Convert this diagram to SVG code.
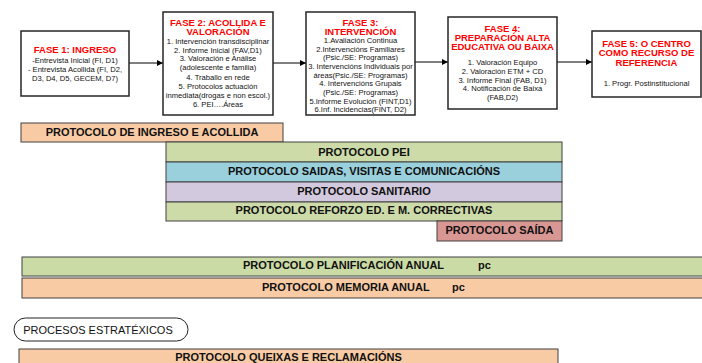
<svg xmlns="http://www.w3.org/2000/svg" width="702" height="363" viewBox="0 0 702 363">
<style>
text{font-family:"Liberation Sans",Arial,sans-serif}
.box{fill:#fff;stroke:#262626;stroke-width:1.5}
.t{font-size:9.5px;font-weight:bold;fill:#ff0000;text-anchor:middle}
.b{font-size:7.6px;fill:#111;text-anchor:middle}
.bar{stroke:#404040;stroke-width:1}
.bl{font-size:11px;font-weight:bold;fill:#111;text-anchor:middle}
.bs{font-size:11px;font-weight:bold;fill:#111}
.conn{stroke:#000;stroke-width:1;fill:none;marker-end:url(#ah)}
</style>
<defs>
<marker id="ah" viewBox="0 0 10 10" refX="10" refY="5" markerWidth="6" markerHeight="6" markerUnits="userSpaceOnUse" orient="auto">
<path d="M0,0 L10,5 L0,10 z" fill="#000"/>
</marker>
</defs>
<rect width="702" height="363" fill="#fff"/>
<g id="connectors">
<line class="conn" x1="129" y1="63" x2="163" y2="63"/>
<line class="conn" x1="273" y1="63" x2="306" y2="63"/>
<line class="conn" x1="415" y1="62" x2="448" y2="62"/>
<line class="conn" x1="557" y1="62" x2="592" y2="62"/>
</g>
<g id="phase1">
<rect class="box" x="21" y="31" width="108" height="65"/>
<text class="t" x="75" y="53.3">FASE 1: INGRESO</text>
<text class="b" x="75" y="62.7">-Entrevista Inicial (FI, D1)</text>
<text class="b" x="75" y="71.7">- Entrevista Acollida (FI, D2,</text>
<text class="b" x="75" y="80.7">D3, D4, D5, GECEM, D7)</text>
</g>
<g id="phase2">
<rect class="box" x="163" y="12" width="110" height="103"/>
<text class="t" x="218" y="26.3">FASE 2: ACOLLIDA E</text>
<text class="t" x="218" y="35.3">VALORACIÓN</text>
<text class="b" x="218" y="44">1. Intervención transdisciplinar</text>
<text class="b" x="218" y="52.7">2. Informe Inicial (FAV,D1)</text>
<text class="b" x="218" y="61.3">3. Valoración e Análise</text>
<text class="b" x="218" y="70.2">(adolescente e familia)</text>
<text class="b" x="218" y="79.7">4. Traballo en rede</text>
<text class="b" x="218" y="88.7">5. Protocolos actuación</text>
<text class="b" x="218" y="97.7">inmediata(drogas e non escol.)</text>
<text class="b" x="218" y="106.7">6. PEI….Áreas</text>
</g>
<g id="phase3">
<rect class="box" x="306" y="12" width="109" height="103"/>
<text class="t" x="360.5" y="26.3">FASE 3:</text>
<text class="t" x="360.5" y="34.7">INTERVENCIÓN</text>
<text class="b" x="360.5" y="43">1.Avaliación Continua</text>
<text class="b" x="360.5" y="51.5">2.Intervencións Familiares</text>
<text class="b" x="360.5" y="60.2">(Psic./SE: Programas)</text>
<text class="b" x="360.5" y="69">3. Intervencións Individuais por</text>
<text class="b" x="360.5" y="77.5">áreas(Psic./SE: Programas)</text>
<text class="b" x="360.5" y="86.3">4. Intervencións Grupais</text>
<text class="b" x="360.5" y="94.8">(Psic./SE: Programas)</text>
<text class="b" x="360.5" y="103.6">5.Informe Evolución (FINT,D1)</text>
<text class="b" x="360.5" y="112">6.Inf. Incidencias(FINT, D2)</text>
</g>
<g id="phase4">
<rect class="box" x="448" y="17" width="109" height="92"/>
<text class="t" x="502.5" y="32">FASE 4:</text>
<text class="t" x="502.5" y="41.3">PREPARACIÓN ALTA</text>
<text class="t" x="502.5" y="50.3">EDUCATIVA OU BAIXA</text>
<text class="b" x="502.5" y="64.7">1. Valoración Equipo</text>
<text class="b" x="502.5" y="73.7">2. Valoración ETM + CD</text>
<text class="b" x="502.5" y="82.7">3. Informe Final (FAB, D1)</text>
<text class="b" x="502.5" y="91.3">4. Notificación de Baixa</text>
<text class="b" x="502.5" y="100.3">(FAB,D2)</text>
</g>
<g id="phase5">
<rect class="box" x="592" y="31" width="109" height="66"/>
<text class="t" x="646.5" y="46.7">FASE 5: O CENTRO</text>
<text class="t" x="646.5" y="56.3">COMO RECURSO DE</text>
<text class="t" x="646.5" y="66">REFERENCIA</text>
<text class="b" x="646.5" y="86">1. Progr. Postinstitucional</text>
</g>
<g id="bar-ingreso">
<rect class="bar" x="21" y="123" width="262" height="19" fill="#f9cba5"/>
<text class="bl" x="152" y="135.7">PROTOCOLO DE INGRESO E ACOLLIDA</text>
</g>
<g id="bar-pei">
<rect class="bar" x="166" y="142" width="396" height="20" fill="#ccdba8"/>
<text class="bl" x="364" y="155.7">PROTOCOLO PEI</text>
</g>
<g id="bar-saidas">
<rect class="bar" x="166" y="162" width="396" height="20" fill="#9acfdc"/>
<text class="bl" x="364" y="175.2">PROTOCOLO SAIDAS, VISITAS E COMUNICACIÓNS</text>
</g>
<g id="bar-sanitario">
<rect class="bar" x="166" y="182" width="396" height="20" fill="#d3c9de"/>
<text class="bl" x="364" y="195">PROTOCOLO SANITARIO</text>
</g>
<g id="bar-reforzo">
<rect class="bar" x="166" y="202" width="396" height="19" fill="#ccdba8"/>
<text class="bl" x="364" y="214.4">PROTOCOLO REFORZO ED. E M. CORRECTIVAS</text>
</g>
<g id="bar-saida">
<rect class="bar" x="437" y="221" width="125" height="20" fill="#d99794"/>
<text class="bl" x="499.5" y="234.2">PROTOCOLO SAÍDA</text>
</g>
<g id="bar-planificacion">
<rect class="bar" x="22" y="257" width="690" height="19" fill="#cbdba6"/>
<text class="bs" x="243" y="269.3">PROTOCOLO PLANIFICACIÓN ANUAL</text>
<text class="bs" x="478" y="269.3">pc</text>
</g>
<g id="bar-memoria">
<rect class="bar" x="22" y="278" width="690" height="20" fill="#f9cba5"/>
<text class="bs" x="262" y="291.3">PROTOCOLO MEMORIA ANUAL</text>
<text class="bs" x="452" y="291.3">pc</text>
</g>
<g id="procesos-estratexicos">
<rect x="14" y="318" width="174" height="23" rx="11.5" ry="11.5" fill="#fff" stroke="#222" stroke-width="1"/>
<text x="98" y="333.5" font-size="11" fill="#111" text-anchor="middle">PROCESOS ESTRATÉXICOS</text>
</g>
<g id="bar-queixas">
<rect class="bar" x="19" y="349" width="539" height="24" fill="#f9cba5"/>
<text class="bl" x="288.5" y="361.3">PROTOCOLO QUEIXAS E RECLAMACIÓNS</text>
</g>
</svg>
